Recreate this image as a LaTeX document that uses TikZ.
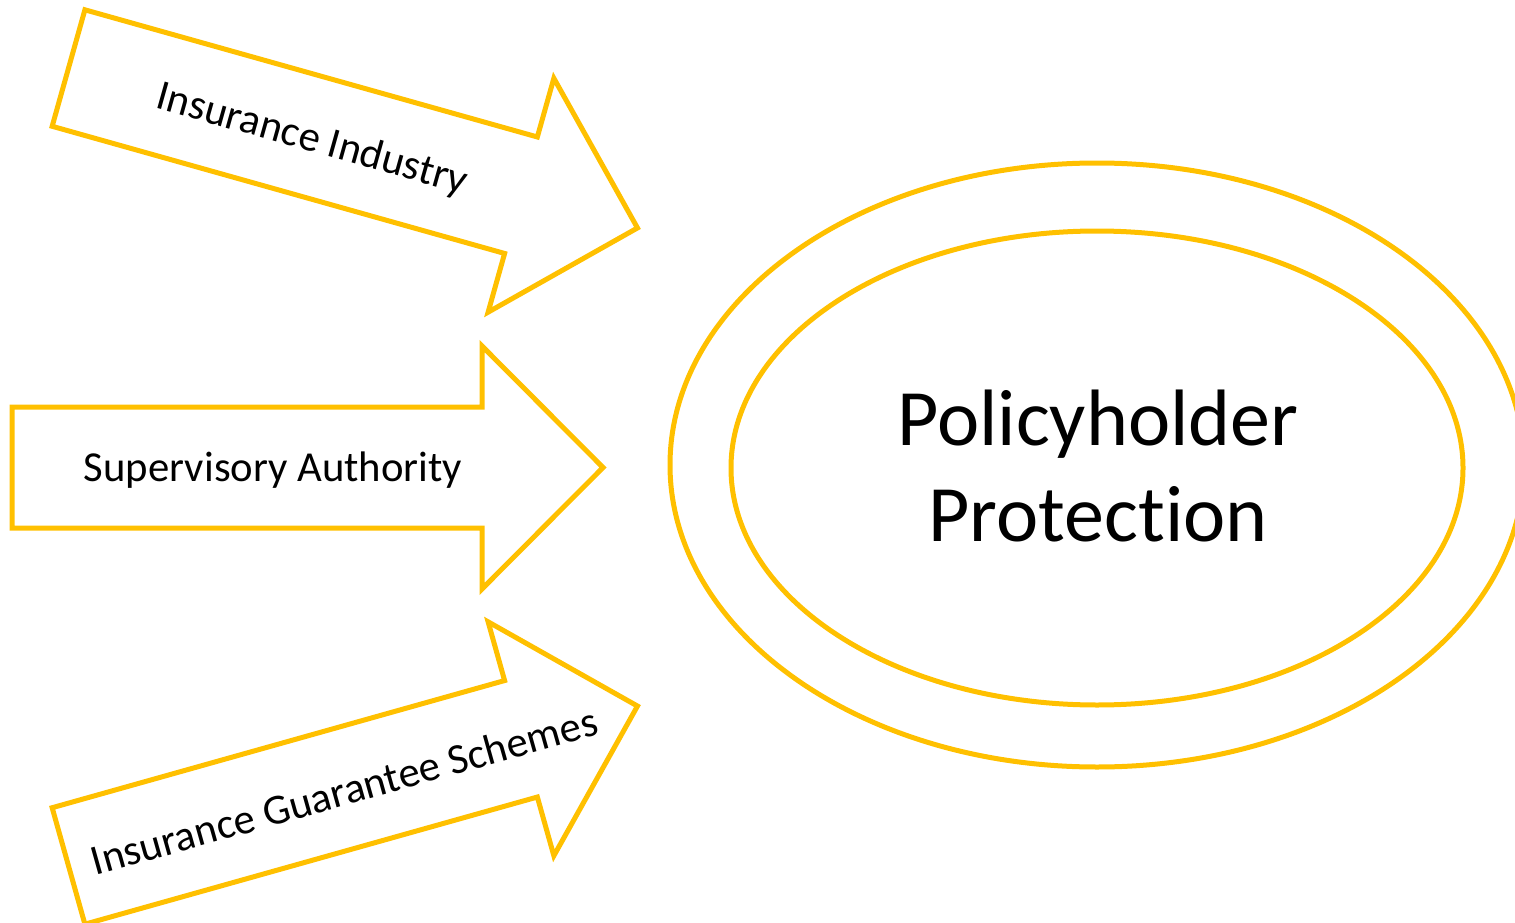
\documentclass[tikz,border=0pt]{standalone}
\usepackage{fontspec}
\setmainfont{Carlito}[Ligatures=NoCommon]
\usetikzlibrary{shapes.geometric}
\definecolor{gold}{HTML}{FFC000}
\tikzset{
  outline/.style={draw=gold, line width=5pt, line join=miter},
  % block arrow centred on its own origin, pointing along +x
  blockarrow/.pic={
    \draw[outline] (-295.5,-60.5) -- (174.5,-60.5) -- (174.5,-121.5)
      -- (295.5,0) -- (174.5,121.5) -- (174.5,60.5) -- (-295.5,60.5) -- cycle;
  },
  smalltext/.style={font=\fontsize{42.7}{51}\selectfont, inner sep=0pt, anchor=base},
  bigtext/.style={font=\fontsize{80}{96}\selectfont, align=center, inner sep=0pt},
  ring/.style={outline, ellipse, inner sep=0pt}
}
\begin{document}
\begin{tikzpicture}[x=1pt, y=-1pt]
  \useasboundingbox (0,0) rectangle (1515,923);

  % three contributing arrows
  \pic (industry) [rotate=-15.7] at (353,148) {blockarrow};
  \pic (authority) at (307.5,467.5) {blockarrow};
  \pic (schemes) [rotate=15.7] at (353,786) {blockarrow};

  \node[smalltext, rotate=-15.7] (industrylabel) at (309,151) {Insurance Industry};
  \node[smalltext] (authoritylabel) at (273,481) {Supervisory Authority};
  \node[smalltext, rotate=15.7] (schemeslabel) at (348,805) {Insurance Guarantee Schemes};

  % concentric rings
  \node[ring, minimum width=854pt, minimum height=604pt] (outer) at (1097,465) {};
  \node[ring, minimum width=732pt, minimum height=474pt] (inner) at (1097,468) {};
  \node[bigtext] (title) at (1098,466) {Policyholder\\Protection};
\end{tikzpicture}
\end{document}
